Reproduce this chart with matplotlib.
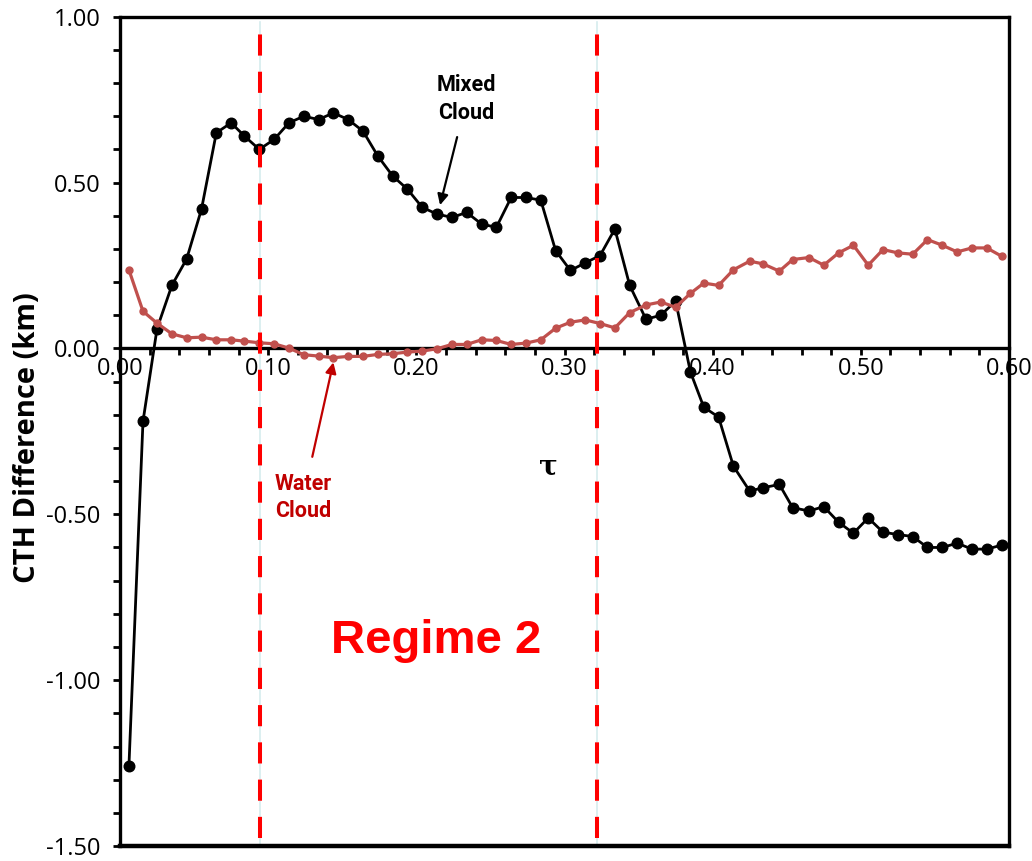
"""
CTH difference vs tau, mixed and water cloud
"""

import matplotlib
matplotlib.use("Agg")
import matplotlib.pyplot as plt
from matplotlib.ticker import MultipleLocator, FormatStrFormatter


tau = [
    0.006, 0.0155, 0.025, 0.035, 0.045, 0.055, 0.065, 0.075, 0.084, 0.094,
    0.104, 0.114, 0.124, 0.134, 0.144, 0.154, 0.164, 0.174, 0.184, 0.194,
    0.204, 0.214, 0.224, 0.234, 0.244, 0.254, 0.264, 0.274, 0.284, 0.294,
    0.304, 0.314, 0.324, 0.334, 0.344, 0.355, 0.365, 0.375, 0.385, 0.394,
    0.404, 0.414, 0.425, 0.434, 0.445, 0.454, 0.465, 0.475, 0.485, 0.495,
    0.505, 0.515, 0.525, 0.535, 0.545, 0.555, 0.565, 0.575, 0.585, 0.595,
]

mixed_cloud = [
    -1.26, -0.22, 0.06, 0.19, 0.27, 0.42, 0.65, 0.68, 0.64, 0.60,
    0.63, 0.68, 0.70, 0.69, 0.71, 0.69, 0.655, 0.58, 0.52, 0.48,
    0.425, 0.405, 0.395, 0.41, 0.375, 0.365, 0.455, 0.455, 0.447, 0.295,
    0.235, 0.258, 0.28, 0.36, 0.19, 0.088, 0.10, 0.143, -0.071, -0.177,
    -0.207, -0.355, -0.43, -0.42, -0.41, -0.48, -0.49, -0.477, -0.524, -0.557,
    -0.511, -0.554, -0.561, -0.567, -0.60, -0.60, -0.587, -0.605, -0.605, -0.593,
]

water_cloud = [
    0.237, 0.112, 0.076, 0.044, 0.032, 0.034, 0.026, 0.026, 0.022, 0.017,
    0.014, 0.001, -0.019, -0.023, -0.028, -0.024, -0.024, -0.018, -0.016, -0.011,
    -0.008, -0.001, 0.012, 0.012, 0.026, 0.024, 0.012, 0.016, 0.026, 0.061,
    0.079, 0.086, 0.075, 0.062, 0.108, 0.131, 0.140, 0.124, 0.166, 0.197,
    0.190, 0.237, 0.263, 0.255, 0.233, 0.268, 0.274, 0.251, 0.288, 0.311,
    0.251, 0.298, 0.288, 0.284, 0.328, 0.311, 0.291, 0.303, 0.303, 0.278,
]

regime_bounds = [0.0946, 0.3216]

NOTE_FONT = ["Roboto", "DejaVu Sans"]


def plot_data():
    fig = plt.figure(figsize=(10.32, 8.61), dpi=100)
    ax = fig.add_axes([0.1163, 0.0174, 0.8614, 0.9632])

    ax.plot(tau, mixed_cloud, color="black", lw=2.0, marker="o",
            markersize=7.6, zorder=3)
    ax.plot(tau, water_cloud, color="#C0504D", lw=2.3, marker="o",
            markersize=5.0, zorder=4)

    # regime boundaries
    for xb in regime_bounds:
        ax.plot([xb, xb], [-1.5, 0.984], color="#d6ecee", lw=1.2, zorder=1)
        ax.plot([xb, xb], [-1.476, 0.954], color="#ff0000", lw=2.9,
                dashes=(5.25, 4), zorder=5)

    ax.set_xlim(0, 0.6)
    ax.set_ylim(-1.5, 1.0)

    # x axis crosses at zero, frame kept around
    ax.spines["bottom"].set_position(("data", 0))
    for s in ax.spines.values():
        s.set_linewidth(2.4)
        s.set_color("black")
    ax.plot([0, 1], [0, 0], transform=ax.transAxes, color="black",
            lw=3.2, clip_on=False, zorder=6)

    ax.xaxis.set_major_locator(MultipleLocator(0.1))
    ax.xaxis.set_minor_locator(MultipleLocator(0.02))
    ax.xaxis.set_major_formatter(FormatStrFormatter("%.2f"))
    ax.yaxis.set_major_locator(MultipleLocator(0.5))
    ax.yaxis.set_minor_locator(MultipleLocator(0.1))
    ax.yaxis.set_major_formatter(FormatStrFormatter("%.2f"))

    ax.tick_params(axis="both", which="both", direction="out", length=5,
                   width=2, color="black", labelsize=17,
                   labelfontfamily="Open Sans")
    ax.tick_params(axis="x", which="major", pad=1)
    ax.tick_params(axis="y", which="major", pad=9)

    ax.set_ylabel("CTH Difference (km)", family=["Open Sans", "DejaVu Sans"],
                  fontweight="bold", fontsize=21)
    ax.yaxis.set_label_coords(-0.088, 0.493)

    ax.annotate("Mixed\nCloud", xy=(0.216, 0.432), xytext=(0.234, 0.752),
                ha="center", va="center", fontsize=15.5, fontweight="bold",
                family=NOTE_FONT, color="black", linespacing=1.3,
                arrowprops=dict(arrowstyle="-|>", color="black", lw=1.6,
                                mutation_scale=16, shrinkA=8, shrinkB=0))
    ax.annotate("Water\nCloud", xy=(0.144, -0.042), xytext=(0.1236, -0.45),
                ha="center", va="center", fontsize=15.5, fontweight="bold",
                family=NOTE_FONT, color="#C00000", linespacing=1.3,
                arrowprops=dict(arrowstyle="-|>", color="#C00000", lw=1.6,
                                mutation_scale=16, shrinkA=10, shrinkB=0))

    ax.text(0.289, -0.356, "τ", ha="center", va="center", fontsize=20,
            fontweight="bold", family="DejaVu Serif")
    ax.text(0.2135, -0.881, "Regime 2", ha="center", va="center",
            fontsize=34, fontweight="bold", color="#ff0000",
            family=["Liberation Sans", "DejaVu Sans"])

    fig.savefig("out.png", dpi=100)


if __name__ == "__main__":
    plot_data()
